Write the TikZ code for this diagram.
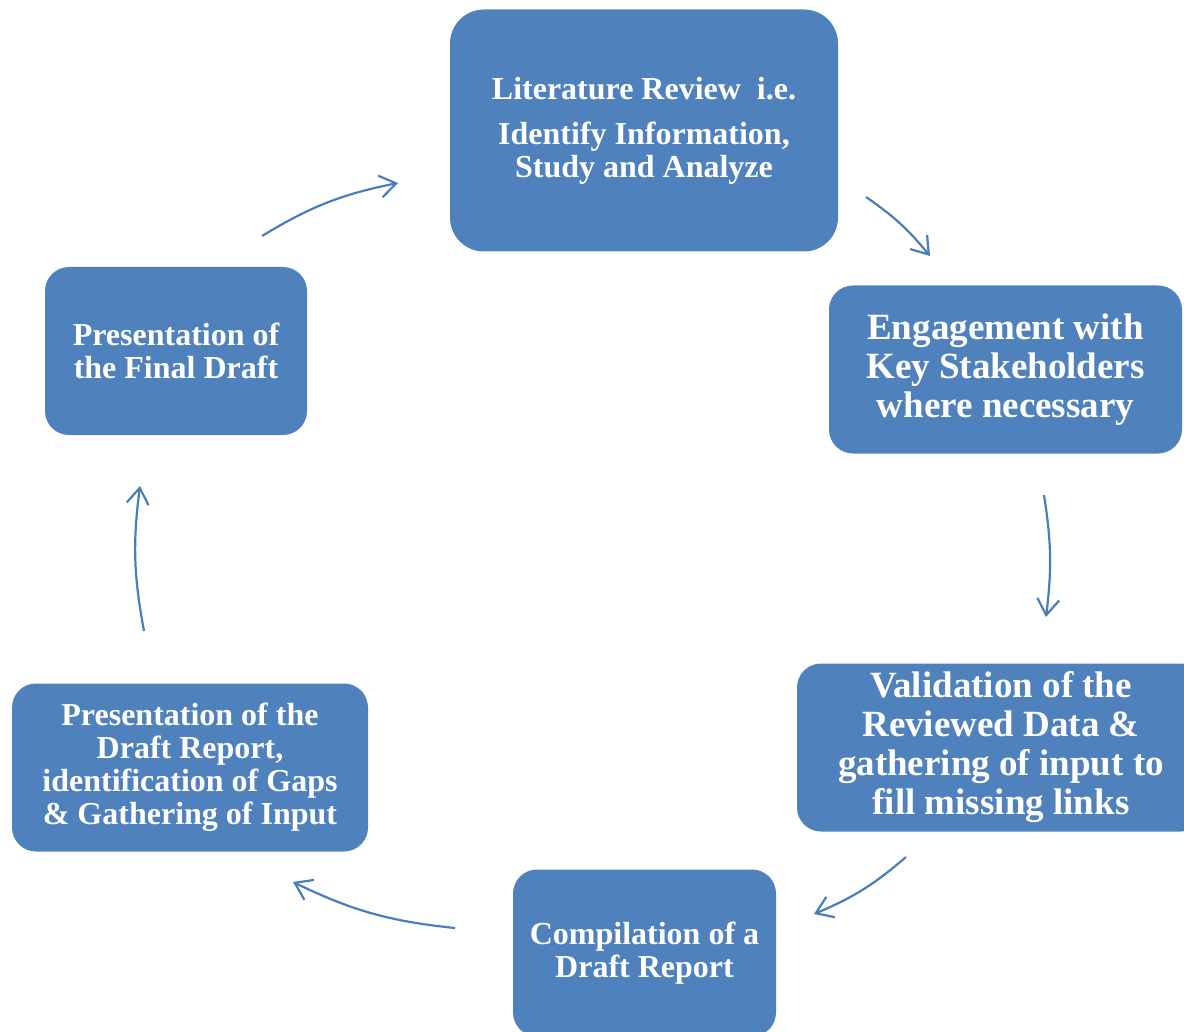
\documentclass[tikz,border=0pt]{standalone}
\usepackage{fontspec}
\setmainfont{Liberation Serif}
\usetikzlibrary{arrows.meta}
\definecolor{boxblue}{HTML}{4F81BD}
\definecolor{arrowblue}{HTML}{4A7EBB}
\begin{document}
\begin{tikzpicture}[x=0.5pt,y=-0.5pt,
  box/.style={fill=boxblue,text=white,font=\bfseries\fontsize{16}{16.5}\selectfont,align=center,inner sep=0pt,rounded corners=12pt,minimum height=84pt},
  big/.style={font=\bfseries\fontsize{18.5}{19.5}\selectfont},
  flow/.style={arrowblue,line width=1.1pt,-{Straight Barb[length=8pt,width=11pt]}}]

\useasboundingbox (0,0) rectangle (1184,1032);

\node[box,minimum width=194pt,minimum height=121pt,rounded corners=17pt] (lit) at (644,130.5) {Literature Review\ \ i.e.\\[6pt] Identify Information,\\ Study and Analyze};
\node[box,big,minimum width=176.5pt] (engage) at (1005.5,369.5) {Engagement with\\ Key Stakeholders\\ where necessary};
\node[box,big,minimum width=204pt] (valid) at (1001,747.5) {Validation of the\\ Reviewed Data \&\\ gathering of input to\\ fill missing links};
\node[box,minimum width=131.5pt,minimum height=83.5pt] (compile) at (644.5,953) {Compilation of a\\ Draft Report};
\node[box,minimum width=178pt] (draftpres) at (190,767.5) {Presentation of the\\ Draft Report,\\ identification of Gaps\\ \& Gathering of Input};
\node[box,minimum width=131pt] (finalpres) at (176,351) {Presentation of\\ the Final Draft};

\coordinate (litout) at (866,197);
\coordinate (engagein) at (930,256);
\coordinate (engageout) at (1044,495);
\coordinate (validin) at (1046,617);
\coordinate (validout) at (906,857);
\coordinate (compilein) at (814,914);
\coordinate (compileout) at (455,928);
\coordinate (draftin) at (293,882);
\coordinate (draftout) at (144,631);
\coordinate (finalin) at (140,486);
\coordinate (finalout) at (262,236);
\coordinate (litin) at (398,183);

\draw[flow] (litout) to[bend left=8] (engagein);
\draw[flow] (engageout) to[bend left=8] (validin);
\draw[flow] (validout) to[bend left=9] (compilein);
\draw[flow] (compileout) to[bend left=10] (draftin);
\draw[flow] (draftout) to[bend left=9] (finalin);
\draw[flow] (finalout) to[bend left=10] (litin);

\end{tikzpicture}
\end{document}
